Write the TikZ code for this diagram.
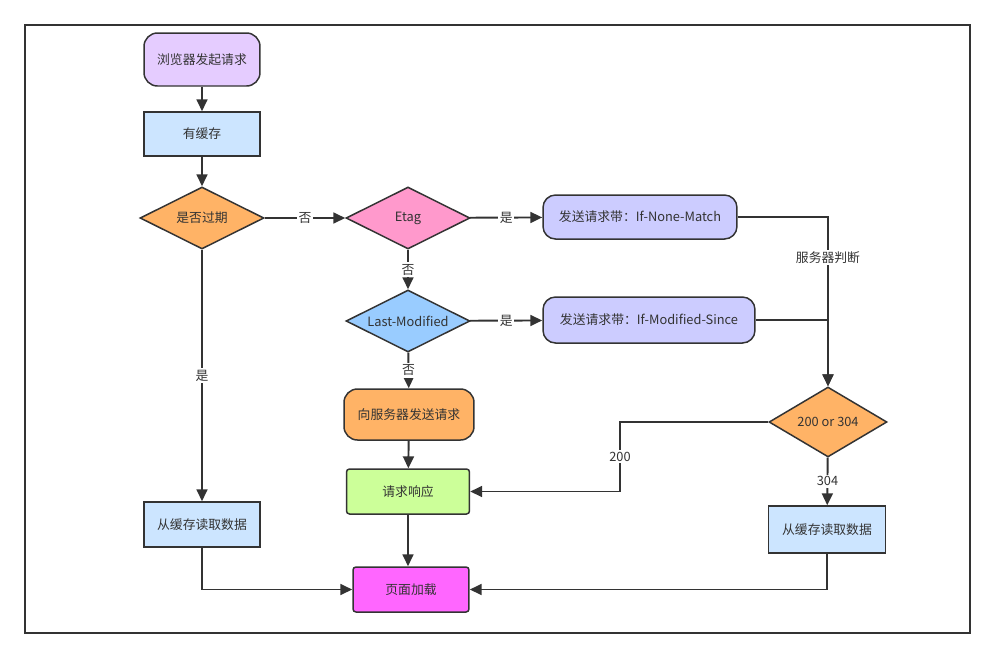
\documentclass[tikz,border=0pt]{standalone}
\usepackage{fontspec}
\setmainfont{Noto Sans CJK SC}
\usepackage{tikz}
\usetikzlibrary{arrows,arrows.meta,shapes.geometric,positioning}

\definecolor{ink}{HTML}{333333}
\definecolor{lilac}{HTML}{E5CCFF}
\definecolor{skyfill}{HTML}{CCE5FF}
\definecolor{apricot}{HTML}{FFB366}
\definecolor{rose}{HTML}{FF99CC}
\definecolor{lavender}{HTML}{CCCCFF}
\definecolor{azure}{HTML}{99CCFF}
\definecolor{lime}{HTML}{CCFF99}
\definecolor{magenta2}{HTML}{FF66FF}

\tikzset{
  box/.style={draw=ink,line width=0.85pt,font=\fontsize{7.3}{9}\selectfont,text=ink,inner sep=0pt},
  proc/.style={box,rectangle,minimum width=2.32cm,minimum height=0.9cm},
  rproc/.style={box,rectangle,rounded corners=0.27cm},
  decision/.style={box,diamond,aspect=2,minimum width=2.48cm,minimum height=1.24cm},
  flow/.style={draw=ink,line width=1.1pt,-{Triangle[length=6.8pt,width=6.2pt]}},
  lbl/.style={fill=white,inner sep=1pt,font=\fontsize{7.3}{9}\selectfont,text=ink}
}

\begin{document}
\begin{tikzpicture}[x=0.02cm,y=-0.02cm]
  \useasboundingbox (0,0) rectangle (995,657);
  \draw[ink,line width=0.85pt] (25,25) rectangle (970,633);

  % left column
  \node[rproc,fill=lilac,minimum width=2.32cm,minimum height=1.06cm] (start) at (202,59.5) {浏览器发起请求};
  \node[proc,fill=skyfill,minimum height=0.88cm] (cache)   at (202,134) {有缓存};
  \node[decision,fill=apricot] (expired) at (202,218) {是否过期};
  \node[proc,fill=skyfill] (local)   at (202,524.5) {从缓存读取数据};

  % middle column
  \node[decision,fill=rose]  (etag)    at (408,218) {Etag};
  \node[decision,fill=azure] (lastmod) at (408,321) {Last-Modified};
  \node[rproc,fill=apricot,minimum width=2.6cm,minimum height=1.02cm] (server) at (409,414.5) {向服务器发送请求};
  \node[proc,fill=lime,rounded corners=0.06cm,minimum width=2.46cm] (response) at (408,491.5) {请求响应};
  \node[proc,fill=magenta2,rounded corners=0.06cm] (load) at (411,589.5) {页面加载};

  % right side
  \node[rproc,fill=lavender,minimum width=3.88cm,minimum height=0.88cm,rounded corners=0.25cm] (ifnone) at (640,217) {发送请求带：If-None-Match};
  \node[rproc,fill=lavender,minimum width=4.24cm,minimum height=0.92cm,rounded corners=0.25cm] (ifmod)  at (649,320) {发送请求带：If-Modified-Since};
  \node[decision,fill=apricot,minimum width=2.36cm,minimum height=1.4cm] (result) at (828,422) {200 or 304};
  \node[proc,fill=skyfill,minimum width=2.34cm,minimum height=0.94cm] (remote) at (827,529.5) {从缓存读取数据};
  \coordinate (turn) at (620,422);

  \path[flow] (start) -- (cache);
  \path[flow] (cache) -- (expired);
  \path[flow] (expired) -- node[lbl] {否} (etag);
  \path[flow] (expired) -- node[lbl,pos=0.5] {是} (local);
  \path[flow] (local) |- (load);
  \path[flow] (etag) -- node[lbl] {是} (ifnone);
  \path[flow] (etag) -- node[lbl] {否} (lastmod);
  \path[flow] (lastmod) -- node[lbl] {是} (ifmod);
  \path[flow] (lastmod) -- node[lbl] {否} (server);
  \path[flow] (server) -- (response);
  \path[flow] (response.south) -- (response.south |- load.north);
  \path[flow] (ifmod) -| (result);
  \path[flow] (ifnone) -| node[lbl,pos=0.62] {服务器判断} (result);
  \path[flow] (result) -- (turn) |- node[lbl,pos=0.25] {200} (response);
  \path[flow] (result) -- node[lbl] {304} (remote);
  \path[flow] (remote) |- (load);
\end{tikzpicture}
\end{document}
